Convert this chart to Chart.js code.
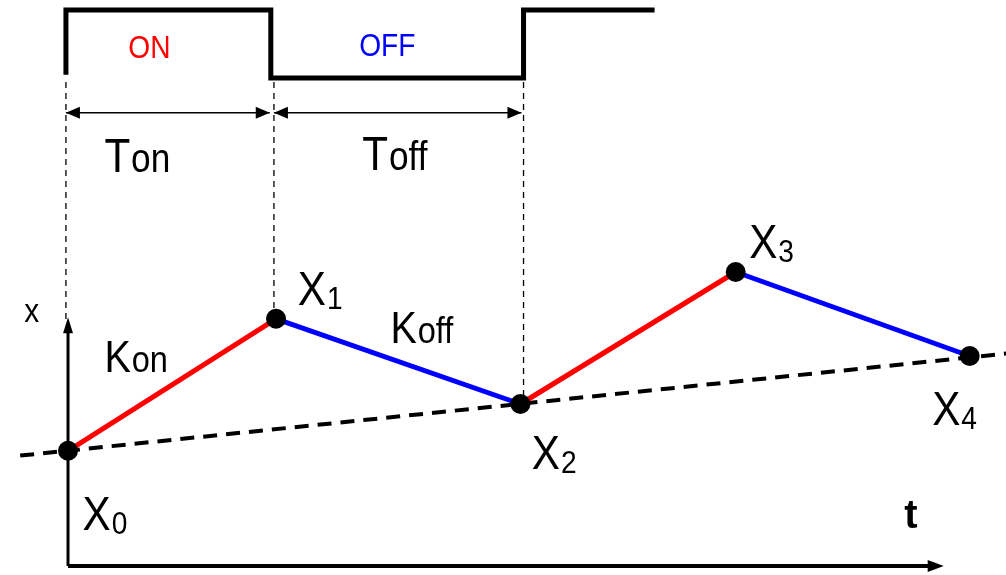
<!DOCTYPE html>
<html>
<head>
<meta charset="utf-8">
<script src="https://cdn.jsdelivr.net/npm/chart.js@4"></script>
<style>
  html, body { margin: 0; padding: 0; background: #fff; }
  #wrap { width: 1006px; height: 575px; position: relative; }
</style>
</head>
<body>
<div id="wrap"><canvas id="pwmChart"></canvas></div>
<script>
// Switching points of x(t)
const vertexT = [0, 2, 4.35, 6.42, 8.67];
const vertexX = [2.88, 6.18, 4.05, 7.35, 5.25];
const vertexLabels = ['X', 'X', 'X', 'X', 'X'];
const vertexSubs = ['0', '1', '2', '3', '4'];

// Dashed trend line through X0, X2, X4
const trendT = [-0.46, 9.02];
const trendX = [2.76, 5.31];

// ON/OFF square wave at the top
const waveT = [-0.02, -0.02, 1.95, 1.95, 4.38, 4.38, 5.64];
const waveX = [12.28, 13.9, 13.9, 12.2, 12.2, 13.9, 13.9];

// Dashed guide lines down from the wave edges
const guideT = [-0.02, 1.98, 4.38];
const guideTop = [12.1, 12.1, 12.1];
const guideBottom = [6.1, 6.18, 4.05];

// Ton / Toff dimension arrows
const spanStart = [-0.02, 1.98];
const spanEnd = [1.94, 4.36];
const spanLevel = 11.33;

// Axes
const axisTEnd = 8.42;
const axisXEnd = 6.22;

const RED = '#ff0000';
const BLUE = '#0000ff';

function pts(ts, xs) {
    return ts.map((t, i) => ({ x: t, y: xs[i] }));
}

const guideSets = guideT.map((t, i) => ({
    data: [{ x: t, y: guideTop[i] }, { x: t, y: guideBottom[i] }],
    showLine: true, borderColor: '#000', borderWidth: 1.3, borderDash: [6, 5],
    pointRadius: 0, order: 5
}));

const spanSets = spanStart.map((s, i) => ({
    data: [{ x: s, y: spanLevel }, { x: spanEnd[i], y: spanLevel }],
    showLine: true, borderColor: '#000', borderWidth: 1.5,
    pointRadius: 0, order: 5
}));

// Text labels, placed in data units
const labels = [
    { t: 0.58, x: 12.7, main: 'ON', color: RED, size: 32 },
    { t: 2.8, x: 12.75, main: 'OFF', color: BLUE, size: 32 },
    { t: 0.35, x: 9.85, main: 'T', sub: 'on', size: 48, subSize: 40, dy: 0 },
    { t: 2.83, x: 9.9, main: 'T', sub: 'off', size: 48, subSize: 40, dy: 0 },
    { t: -0.42, x: 6.1, main: 'x', size: 34 },
    { t: 0.35, x: 4.85, main: 'K', sub: 'on', size: 45, subSize: 37, dy: 0 },
    { t: 3.1, x: 5.57, main: 'K', sub: 'off', size: 45, subSize: 37, dy: 0 },
    { t: 8.04, x: 0.95, main: 't', size: 40, bold: true, sx: 1 }
];
const vertexLabelPos = [
    { t: 0.14, x: 0.9 },
    { t: 2.21, x: 6.52 },
    { t: 4.46, x: 2.42 },
    { t: 6.55, x: 7.7 },
    { t: 8.31, x: 3.52 }
];
vertexLabels.forEach((m, i) => {
    labels.push({ t: vertexLabelPos[i].t, x: vertexLabelPos[i].x, main: m, sub: vertexSubs[i],
        size: 48, subSize: 32, dy: 4 });
});

function drawLabel(ctx, xs, ys, l) {
    const sx = l.sx || 0.88;
    ctx.save();
    ctx.translate(xs.getPixelForValue(l.t), ys.getPixelForValue(l.x));
    ctx.scale(sx, 1);
    ctx.fillStyle = l.color || '#000';
    ctx.textBaseline = 'alphabetic';
    ctx.textAlign = 'left';
    ctx.font = (l.bold ? 'bold ' : '') + l.size + 'px "Liberation Sans", Arial, sans-serif';
    ctx.fillText(l.main, 0, 0);
    if (l.sub) {
        const w = ctx.measureText(l.main).width;
        ctx.font = l.subSize + 'px "Liberation Sans", Arial, sans-serif';
        ctx.fillText(l.sub, w + 1, l.dy || 0);
    }
    ctx.restore();
}

function arrowHead(ctx, x, y, dir, len, half) {
    // dir: 'left', 'right', 'up'
    ctx.beginPath();
    if (dir === 'right') {
        ctx.moveTo(x, y); ctx.lineTo(x - len, y - half); ctx.lineTo(x - len, y + half);
    } else if (dir === 'left') {
        ctx.moveTo(x, y); ctx.lineTo(x + len, y - half); ctx.lineTo(x + len, y + half);
    } else {
        ctx.moveTo(x, y); ctx.lineTo(x - half, y + len); ctx.lineTo(x + half, y + len);
    }
    ctx.closePath();
    ctx.fill();
}

const decorPlugin = {
    id: 'decor',
    afterDatasetsDraw(chart) {
        const ctx = chart.ctx;
        const xs = chart.scales.x, ys = chart.scales.y;
        ctx.save();
        ctx.fillStyle = '#000';
        // span arrows
        spanStart.forEach((s, i) => {
            const y = ys.getPixelForValue(spanLevel);
            arrowHead(ctx, xs.getPixelForValue(s), y, 'left', 14, 6);
            arrowHead(ctx, xs.getPixelForValue(spanEnd[i]), y, 'right', 14, 6);
        });
        // axis arrows
        arrowHead(ctx, xs.getPixelForValue(axisTEnd), ys.getPixelForValue(0), 'right', 16, 6);
        arrowHead(ctx, xs.getPixelForValue(0), ys.getPixelForValue(axisXEnd), 'up', 16, 5);
        ctx.restore();
        labels.forEach(l => drawLabel(ctx, xs, ys, l));
    }
};

new Chart(document.getElementById('pwmChart'), {
    type: 'scatter',
    data: {
        datasets: [
            {
                data: pts(vertexT, vertexX),
                showLine: false, pointRadius: 10, pointBackgroundColor: '#000',
                pointBorderWidth: 0, order: 0
            },
            {
                data: pts(vertexT, vertexX),
                showLine: true, borderWidth: 5, pointRadius: 0, order: 1,
                borderColor: RED,
                segment: { borderColor: c => (c.p0DataIndex % 2 ? BLUE : RED) }
            },
            {
                data: pts(trendT, trendX),
                showLine: true, borderColor: '#000', borderWidth: 4, borderDash: [14, 9],
                pointRadius: 0, order: 2
            },
            {
                data: pts(waveT, waveX),
                showLine: true, borderColor: '#000', borderWidth: 5, pointRadius: 0,
                order: 3
            },
            {
                data: [{ x: 0, y: 0 }, { x: axisTEnd - 0.1, y: 0 }],
                showLine: true, borderColor: '#000', borderWidth: 4, pointRadius: 0, order: 4
            },
            {
                data: [{ x: 0, y: 0 }, { x: 0, y: axisXEnd - 0.2 }],
                showLine: true, borderColor: '#000', borderWidth: 3, pointRadius: 0, order: 4
            },
            ...guideSets,
            ...spanSets
        ]
    },
    options: {
        responsive: true,
        maintainAspectRatio: false,
        animation: false,
        layout: { padding: 0, autoPadding: false },
        plugins: { legend: { display: false }, tooltip: { enabled: false } },
        scales: {
            x: { type: 'linear', display: false, min: -0.654, max: 9.019 },
            y: { type: 'linear', display: false, min: -0.225, max: 14.15 }
        }
    },
    plugins: [decorPlugin]
});
</script>
</body>
</html>
